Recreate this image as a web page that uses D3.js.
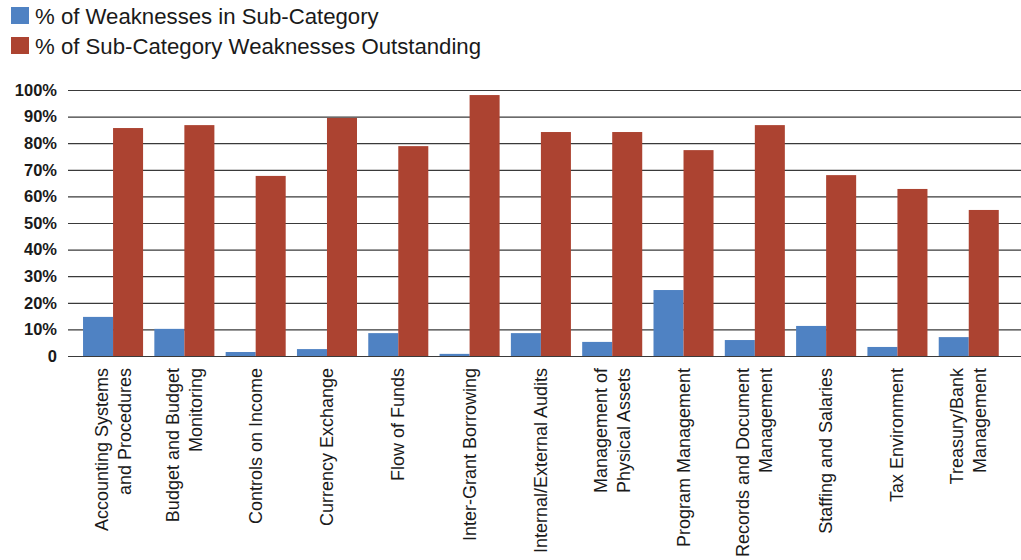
<!DOCTYPE html>
<html><head><meta charset="utf-8">
<script src="https://cdn.jsdelivr.net/npm/d3@7"></script>
<style>body{margin:0;background:#fff}svg{display:block;font-family:"Liberation Sans",Arial,sans-serif}</style>
</head><body><svg id="c" width="1021" height="560"></svg>
<script>
const categories = [
  ["Accounting Systems","and Procedures"],
  ["Budget and Budget","Monitoring"],
  ["Controls on Income"],
  ["Currency Exchange"],
  ["Flow of Funds"],
  ["Inter-Grant Borrowing"],
  ["Internal/External Audits"],
  ["Management of","Physical Assets"],
  ["Program Management"],
  ["Records and Document","Management"],
  ["Staffing and Salaries"],
  ["Tax Environment"],
  ["Treasury/Bank","Management"]
];
const seriesNames = ["% of Weaknesses in Sub-Category","% of Sub-Category Weaknesses Outstanding"];
const pctInSubCategory = [14.7,10.2,1.5,2.6,8.6,0.8,8.6,5.3,24.8,6.0,11.3,3.4,7.1];
const pctOutstanding   = [85.7,86.8,67.7,89.5,78.9,98.1,84.2,84.2,77.4,86.8,68.0,62.8,54.9];
const yTicks = [0,10,20,30,40,50,60,70,80,90,100];
const colors = ["#4f82c3","#ac4331"];

const svg = d3.select("#c");
const x0 = d3.scaleBand().domain(d3.range(categories.length)).range([77.4,1004.4]).paddingInner(0.158).paddingOuter(0.079);
const x1 = d3.scaleBand().domain([0,1]).range([0,x0.bandwidth()]);
const y = d3.scaleLinear().domain([0,100]).range([356,90]);

// gridlines + y axis
const yAxis = d3.axisLeft(y).tickValues(yTicks).tickSize(-(1021-68)).tickPadding(11)
  .tickFormat(d => d===0 ? "0" : d+"%");
const ga = svg.append("g").attr("transform","translate(68,0)").call(yAxis);
ga.select(".domain").remove();
ga.selectAll(".tick line").attr("x1",0).attr("x2",1021-68).attr("stroke","#3a3a3a").attr("stroke-width",1.2);
ga.selectAll(".tick text").attr("font-size",16.5).attr("font-weight","bold").attr("fill","#1a1a1a").attr("font-family","'Liberation Sans',Arial,sans-serif");

// bars
const series = [pctInSubCategory, pctOutstanding];
series.forEach((vals,si)=>{
  svg.append("g").selectAll("rect").data(vals).join("rect")
    .attr("x",(d,i)=>x0(i)+x1(si))
    .attr("width",x1.bandwidth())
    .attr("y",d=>y(d))
    .attr("height",d=>y(0)-y(d))
    .attr("fill",colors[si]);
});

// x labels
const lh = 23;
const lab = svg.append("g");
categories.forEach((lines,i)=>{
  const cx = x0(i)+x0.bandwidth()/2;
  const n = lines.length;
  lines.forEach((t,j)=>{
    const off = (j-(n-1)/2)*lh;
    lab.append("text")
      .attr("transform",`translate(${cx+off+6},368) rotate(-90)`)
      .attr("text-anchor","end")
      .attr("font-size",18)
      .attr("fill","#1a1a1a")
      .text(t);
  });
});

// legend
const lg = svg.append("g");
seriesNames.forEach((s,i)=>{
  lg.append("rect").attr("x",11).attr("y",7+i*30).attr("width",18).attr("height",17).attr("fill",colors[i]);
  lg.append("text").attr("x",35).attr("y",23.5+i*30).attr("font-size",22.2).attr("fill","#1a1a1a").text(s);
});
</script></body></html>
